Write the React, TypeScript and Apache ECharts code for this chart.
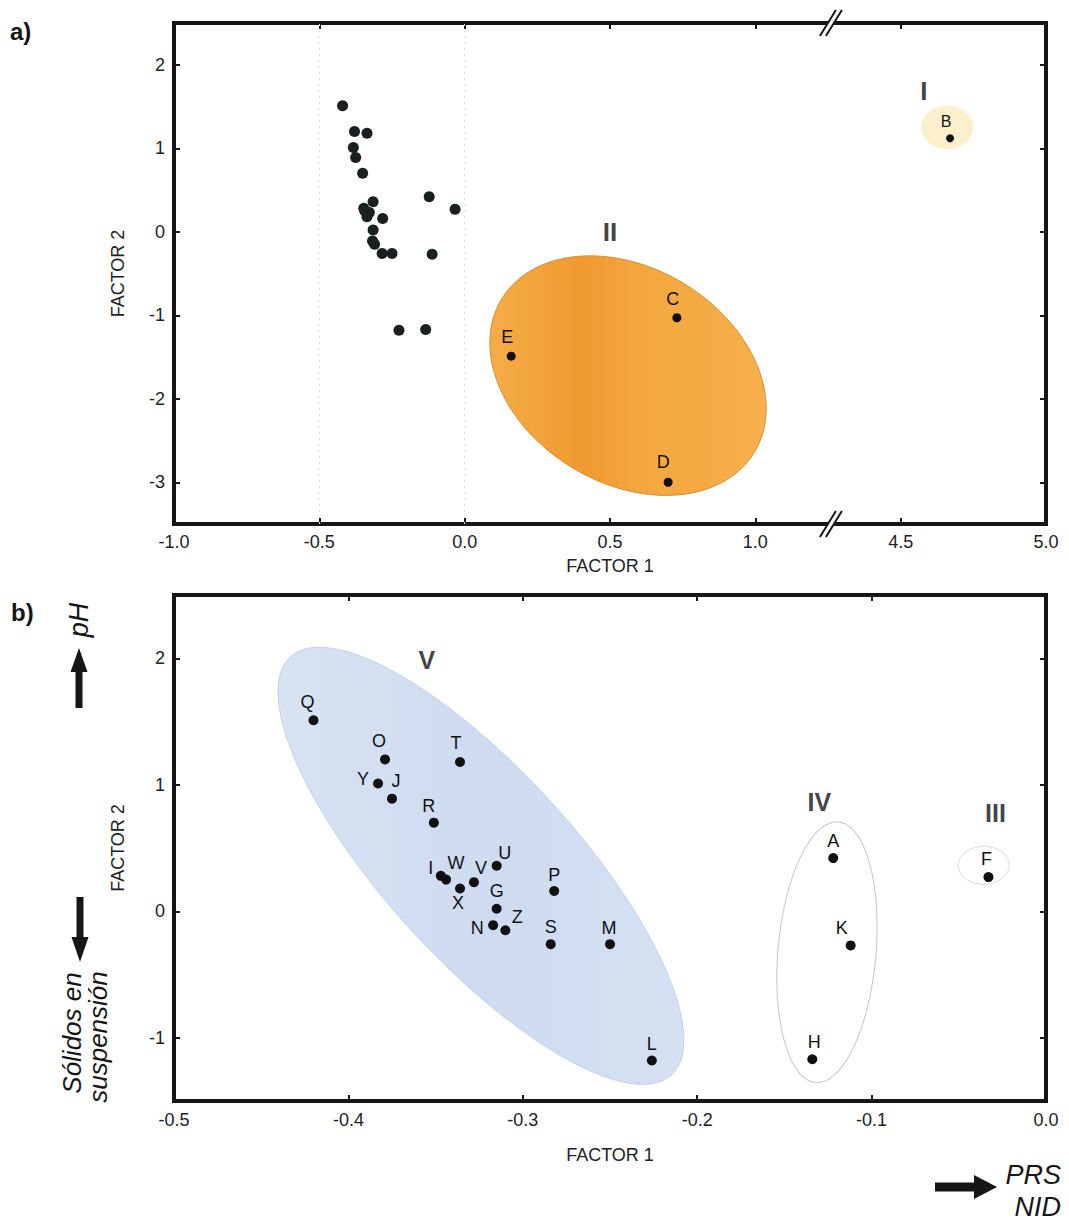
import React, { useEffect, useRef } from 'react';
import * as echarts from 'echarts';

// ---------- data (factor scores) ----------
// Panel b sites (also plotted as the unlabelled cluster in panel a)
const siteNames = ['Q', 'O', 'T', 'Y', 'J', 'R', 'I', 'W', 'V', 'U', 'X', 'G', 'N', 'Z', 'P', 'S', 'M', 'L', 'A', 'K', 'H', 'F'];
const factor1 = [-0.420, -0.379, -0.336, -0.383, -0.375, -0.351, -0.347, -0.344, -0.328, -0.315, -0.336, -0.315, -0.317, -0.310, -0.282, -0.284, -0.250, -0.226, -0.122, -0.112, -0.134, -0.033];
const factor2 = [1.51, 1.20, 1.18, 1.01, 0.89, 0.70, 0.28, 0.25, 0.23, 0.36, 0.18, 0.02, -0.11, -0.15, 0.16, -0.26, -0.26, -1.18, 0.42, -0.27, -1.17, 0.27];

// Panel a outlying sites
const outlierNames = ['C', 'D', 'E', 'B'];
const outlierFactor1 = [0.73, 0.70, 0.16, 4.67];
const outlierFactor2 = [-1.03, -3.00, -1.49, 1.12];

// Group labels (roman numerals)
const groupNamesA = ['I', 'II'];
const groupXA = [4.58, 0.50];
const groupYA = [1.68, 0.0];
const groupNamesB = ['V', 'IV', 'III'];
const groupXB = [-0.355, -0.130, -0.029];
const groupYB = [1.99, 0.86, 0.78];

// Group ellipses: [centre F1, centre F2, semi-axis 1 (dF1, dF2), semi-axis 2 (dF1, dF2)]
const ellipseI = [4.66, 1.25, 0.089, 0, 0, 0.26];
const ellipseII = [0.562, -1.723, 0.434, -0.922, -0.194, -1.099];
const ellipseV = [-0.324, 0.359, 0.1092, -1.653, -0.0403, -0.504];
const ellipseIV = [-0.1256, -0.324, 0.0065, 1.03, 0.028, -0.034];
const ellipseIII = [-0.0357, 0.363, 0.0146, 0, 0, 0.15];

// Broken factor-1 axis of panel a: the range 1.25 .. 4.25 is cut out
const AXIS_BREAK = 1.25;
const BREAK_SHIFT = 3.0;

// ---------- styles ----------
const FONT = '"Liberation Sans", Arial, Helvetica, sans-serif';
const INK = '#161616';
const TXT = '#222222';

const labelOffsetA: Record<string, [number, number]> = {
  C: [-4, -19], D: [-5, -20], E: [-4, -19], B: [-4, -17],
};
const labelOffsetB: Record<string, [number, number]> = {
  Q: [-6, -18], O: [-6, -18], T: [-4, -19], Y: [-15, -4], J: [4, -18], R: [-5, -17],
  I: [-10, -8], W: [10, -17], V: [7, -14], U: [8, -13], X: [-2, 15], G: [0, -18],
  N: [-16, 3], Z: [12, -13], P: [0, -16], S: [0, -17], M: [-1, -16], L: [0, -17],
  A: [0, -17], K: [-9, -17], H: [2, -17], F: [-2, -18],
};

const breakMap = (v: number) => (v > AXIS_BREAK + 1 ? v - BREAK_SHIFT : v);
const fmt1 = (v: number) => (Math.abs(v) < 1e-9 ? 0 : v).toFixed(1);
const fmtInt = (v: number) => (Math.abs(v - Math.round(v)) < 1e-9 ? String(Math.round(v)) : '');

type EllStyle = { fill: any; stroke: string; lineWidth: number };

function ellipseRenderer(styles: EllStyle[]) {
  return (params: any, api: any) => {
    const cx = api.value(0), cy = api.value(1);
    const ux = api.value(2), uy = api.value(3), vx = api.value(4), vy = api.value(5);
    const pts: number[][] = [];
    const n = 120;
    for (let k = 0; k < n; k++) {
      const t = (k / n) * Math.PI * 2;
      pts.push(api.coord([cx + ux * Math.cos(t) + vx * Math.sin(t), cy + uy * Math.cos(t) + vy * Math.sin(t)]));
    }
    const st = styles[params.dataIndex];
    return {
      type: 'polygon',
      shape: { points: pts },
      style: { fill: st.fill, stroke: st.stroke, lineWidth: st.lineWidth },
    };
  };
}

function breakRenderer(params: any, api: any) {
  const [x, y] = api.coord([api.value(0), api.value(1)]);
  return {
    type: 'group',
    children: [
      { type: 'polygon', shape: { points: [[x - 6, y + 5], [x, y + 5], [x + 6, y - 5], [x, y - 5]] }, style: { fill: '#ffffff' } },
      { type: 'line', shape: { x1: x - 11, y1: y + 13, x2: x + 5, y2: y - 13 }, style: { stroke: INK, lineWidth: 2 } },
      { type: 'line', shape: { x1: x - 5, y1: y + 13, x2: x + 11, y2: y - 13 }, style: { stroke: INK, lineWidth: 2 } },
    ],
  };
}

const tick = { show: true, inside: true, length: 6, lineStyle: { color: INK, width: 2 } };
const noLine = { show: false, onZero: false };
const nameStyle = { fontSize: 18, color: TXT, fontFamily: FONT };
const tickLabel = { fontSize: 18, color: TXT, fontFamily: FONT };

function buildOption() {
  const stylesA: EllStyle[] = [
    { fill: '#FBF0CB', stroke: 'rgba(0,0,0,0)', lineWidth: 0 },
    {
      fill: new echarts.graphic.LinearGradient(0, 0, 1, 0, [
        { offset: 0, color: '#F5AC48' },
        { offset: 0.2, color: '#F2A238' },
        { offset: 0.34, color: '#EF9A30' },
        { offset: 0.55, color: '#F4A73E' },
        { offset: 1, color: '#F7B04C' },
      ]),
      stroke: '#D48E34',
      lineWidth: 1,
    },
  ];
  const stylesB: EllStyle[] = [
    {
      fill: new echarts.graphic.LinearGradient(0, 0, 1, 0, [
        { offset: 0, color: '#D8E3F3' },
        { offset: 0.5, color: '#CEDBF0' },
        { offset: 1, color: '#D5E1F2' },
      ]),
      stroke: 'rgba(185,202,228,0.8)',
      lineWidth: 1,
    },
    { fill: 'rgba(0,0,0,0)', stroke: '#cbcbcb', lineWidth: 1.1 },
    { fill: 'rgba(0,0,0,0)', stroke: '#d8d8d8', lineWidth: 1 },
  ];

  const mapEll = (e: number[]) => [breakMap(e[0]), ...e.slice(1)];

  return {
    animation: false,
    backgroundColor: '#ffffff',
    textStyle: { fontFamily: FONT },
    grid: [
      { left: 174, top: 23, width: 872, height: 501, show: true, borderColor: INK, borderWidth: 4, backgroundColor: 'rgba(0,0,0,0)' },
      { left: 174, top: 595, width: 872, height: 506, show: true, borderColor: INK, borderWidth: 4, backgroundColor: 'rgba(0,0,0,0)' },
    ],
    xAxis: [
      {
        type: 'value', gridIndex: 0, position: 'bottom', min: -1, max: 2, interval: 0.5,
        axisLine: noLine, splitLine: { show: false }, axisTick: tick,
        axisLabel: { ...tickLabel, margin: 9, formatter: (v: number) => fmt1(v > AXIS_BREAK ? v + BREAK_SHIFT : v) },
        name: 'FACTOR 1', nameLocation: 'middle', nameGap: 33, nameTextStyle: nameStyle,
      },
      {
        type: 'value', gridIndex: 0, position: 'top', min: -1, max: 2, interval: 0.5,
        axisLine: noLine, splitLine: { show: false }, axisTick: tick, axisLabel: { show: false },
      },
      {
        type: 'value', gridIndex: 1, position: 'bottom', min: -0.5, max: 0, interval: 0.1,
        axisLine: noLine, splitLine: { show: false }, axisTick: tick,
        axisLabel: { ...tickLabel, margin: 10, formatter: (v: number) => fmt1(v) },
        name: 'FACTOR 1', nameLocation: 'middle', nameGap: 45, nameTextStyle: nameStyle,
      },
      {
        type: 'value', gridIndex: 1, position: 'top', min: -0.5, max: 0, interval: 0.1,
        axisLine: noLine, splitLine: { show: false }, axisTick: tick, axisLabel: { show: false },
      },
    ],
    yAxis: [
      {
        type: 'value', gridIndex: 0, position: 'left', min: -3.5, max: 2.5, splitNumber: 6,
        axisLine: noLine, splitLine: { show: false }, axisTick: tick,
        axisLabel: { ...tickLabel, margin: 9, formatter: fmtInt },
        name: 'FACTOR 2', nameLocation: 'middle', nameGap: 47, nameTextStyle: nameStyle,
      },
      {
        type: 'value', gridIndex: 0, position: 'right', min: -3.5, max: 2.5, splitNumber: 6,
        axisLine: noLine, splitLine: { show: false }, axisTick: tick, axisLabel: { show: false },
      },
      {
        type: 'value', gridIndex: 1, position: 'left', min: -1.5, max: 2.5, splitNumber: 4,
        axisLine: noLine, splitLine: { show: false }, axisTick: tick,
        axisLabel: { ...tickLabel, margin: 9, formatter: fmtInt },
        name: 'FACTOR 2', nameLocation: 'middle', nameGap: 47, nameTextStyle: nameStyle,
      },
      {
        type: 'value', gridIndex: 1, position: 'right', min: -1.5, max: 2.5, splitNumber: 4,
        axisLine: noLine, splitLine: { show: false }, axisTick: tick, axisLabel: { show: false },
      },
    ],
    series: [
      // ---- panel a ----
      {
        type: 'custom', name: 'ellipses a', xAxisIndex: 0, yAxisIndex: 0, z: 1, silent: true,
        renderItem: ellipseRenderer(stylesA),
        data: [mapEll(ellipseI), mapEll(ellipseII)],
      },
      {
        type: 'scatter', name: 'sites a', xAxisIndex: 0, yAxisIndex: 0, z: 3,
        symbol: 'circle', symbolSize: 11, itemStyle: { color: '#1a1f1f', opacity: 1 },
        data: siteNames.map((n, i) => ({ name: n, value: [factor1[i], factor2[i]] })),
        markLine: {
          silent: true, symbol: ['none', 'none'], label: { show: false },
          lineStyle: { color: '#dedede', type: [2, 4], width: 1 },
          data: [{ xAxis: -0.5 }, { xAxis: 0 }],
        },
      },
      {
        type: 'scatter', name: 'outliers a', xAxisIndex: 0, yAxisIndex: 0, z: 4,
        symbol: 'circle', itemStyle: { color: '#111111', opacity: 1 },
        symbolSize: (v: any, p: any) => (p.name === 'B' ? 8 : 9),
        label: { show: true, position: 'inside', formatter: '{b}', fontSize: 18, color: '#111', fontFamily: FONT },
        data: outlierNames.map((n, i) => ({
          name: n,
          value: [breakMap(outlierFactor1[i]), outlierFactor2[i]],
          label: { offset: labelOffsetA[n], fontSize: n === 'B' ? 16 : 18 },
        })),
      },
      {
        type: 'scatter', name: 'groups a', xAxisIndex: 0, yAxisIndex: 0, z: 4, symbolSize: 1,
        itemStyle: { color: 'rgba(0,0,0,0)' },
        label: { show: true, position: 'inside', formatter: '{b}', fontSize: 26, fontWeight: 'bold', color: '#111', fontFamily: FONT },
        data: groupNamesA.map((n, i) => ({ name: n, value: [breakMap(groupXA[i]), groupYA[i]] })),
      },
      {
        type: 'custom', name: 'axis break', xAxisIndex: 0, yAxisIndex: 0, z: 10, clip: false, silent: true,
        renderItem: breakRenderer,
        data: [[AXIS_BREAK + 0.01, 2.5], [AXIS_BREAK + 0.01, -3.5]],
      },
      // ---- panel b ----
      {
        type: 'custom', name: 'ellipses b', xAxisIndex: 2, yAxisIndex: 2, z: 1, silent: true,
        renderItem: ellipseRenderer(stylesB),
        data: [ellipseV, ellipseIV, ellipseIII],
      },
      {
        type: 'scatter', name: 'sites b', xAxisIndex: 2, yAxisIndex: 2, z: 3,
        symbol: 'circle', symbolSize: 10, itemStyle: { color: '#111111', opacity: 1 },
        label: { show: true, position: 'inside', formatter: '{b}', fontSize: 18, color: '#111', fontFamily: FONT },
        data: siteNames.map((n, i) => ({ name: n, value: [factor1[i], factor2[i]], label: { offset: labelOffsetB[n] } })),
      },
      {
        type: 'scatter', name: 'groups b', xAxisIndex: 2, yAxisIndex: 2, z: 4, symbolSize: 1,
        itemStyle: { color: 'rgba(0,0,0,0)' },
        label: { show: true, position: 'inside', formatter: '{b}', fontSize: 25, fontWeight: 'bold', color: '#111', fontFamily: FONT },
        data: groupNamesB.map((n, i) => ({ name: n, value: [groupXB[i], groupYB[i]] })),
      },
    ],
    graphic: [
      { type: 'text', x: 10, y: 31, style: { text: 'a)', font: `bold 24px ${FONT}`, fill: INK, verticalAlign: 'middle' } },
      { type: 'text', x: 11, y: 612, style: { text: 'b)', font: `bold 24px ${FONT}`, fill: INK, verticalAlign: 'middle' } },
      { type: 'text', x: 79, y: 620, rotation: Math.PI / 2, style: { text: 'pH', font: `italic 27px ${FONT}`, fill: INK, align: 'center', verticalAlign: 'middle' } },
      { type: 'polygon', shape: { points: [[75.5, 708], [75.5, 672], [70.5, 672], [79, 648], [87.5, 672], [82.5, 672], [82.5, 708]] }, style: { fill: INK } },
      { type: 'polygon', shape: { points: [[76.5, 897], [76.5, 937], [71.5, 937], [80, 962], [88.5, 937], [83.5, 937], [83.5, 897]] }, style: { fill: INK } },
      { type: 'text', x: 72, y: 1033, rotation: Math.PI / 2, style: { text: 'Sólidos en', font: `italic 26px ${FONT}`, fill: INK, align: 'center', verticalAlign: 'middle' } },
      { type: 'text', x: 98, y: 1037, rotation: Math.PI / 2, style: { text: 'suspensión', font: `italic 26px ${FONT}`, fill: INK, align: 'center', verticalAlign: 'middle' } },
      { type: 'polygon', shape: { points: [[935, 1182.5], [974, 1182.5], [974, 1175], [997, 1187], [974, 1199], [974, 1191.5], [935, 1191.5]] }, style: { fill: INK } },
      { type: 'text', x: 1061, y: 1175, style: { text: 'PRS', font: `italic 27px ${FONT}`, fill: INK, align: 'right', verticalAlign: 'middle' } },
      { type: 'text', x: 1061, y: 1207, style: { text: 'NID', font: `italic 27px ${FONT}`, fill: INK, align: 'right', verticalAlign: 'middle' } },
    ],
  };
}

export default function App() {
  const ref = useRef<HTMLDivElement>(null);
  useEffect(() => {
    if (!ref.current) return;
    const chart = echarts.init(ref.current, undefined, { renderer: 'svg' });
    chart.setOption(buildOption() as any);
    return () => chart.dispose();
  }, []);
  return (
    <div
      ref={ref}
      style={{ position: 'absolute', left: 0, top: 0, width: 1069, height: 1222, background: '#ffffff' }}
    />
  );
}
